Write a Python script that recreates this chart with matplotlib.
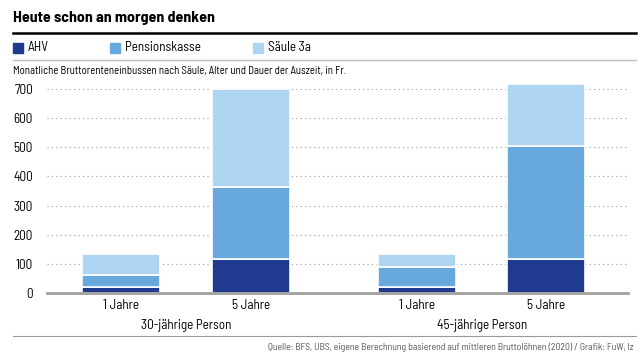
import matplotlib
matplotlib.use("Agg")
import matplotlib.pyplot as plt
from matplotlib.lines import Line2D
from matplotlib.patches import Rectangle

# data (Fr. per month)
durations = ["1 Jahre", "5 Jahre", "1 Jahre", "5 Jahre"]
groups = ["30-jährige Person", "45-jährige Person"]
ahv = [20, 117, 20, 117]
pensionskasse = [42, 247, 70, 386]
saeule3a = [73, 336, 45, 215]
series_names = ["AHV", "Pensionskasse", "Säule 3a"]
colors = ["#1f3a8f", "#67a9dc", "#aed5f1"]
yticks = [0, 100, 200, 300, 400, 500, 600, 700]

plt.rcParams["font.family"] = ["Barlow Semi Condensed", "DejaVu Sans"]
plt.rcParams["font.stretch"] = "condensed"

fig = plt.figure(figsize=(6.4, 3.58), dpi=100)
W, H = 640, 358

def fx(px):
    return px / W

def fy(py):
    return 1 - py / H

ax = fig.add_axes([fx(47), fy(293), fx(628) - fx(47), fy(89) - fy(293)])
ax.set_ylim(0, 700)

xpos = [0, 1, 2.28, 3.27]
width = 0.6
bottom = [0] * 4
for vals, col in zip([ahv, pensionskasse, saeule3a], colors):
    bars = ax.bar(xpos, vals, width, bottom=bottom, color=col, edgecolor="white",
                  linewidth=1.2, zorder=3)
    for b in bars:
        b.set_clip_on(False)
    bottom = [b + v for b, v in zip(bottom, vals)]

ax.set_xlim(-0.57, 3.9)
ax.set_yticks(yticks)
ax.set_yticklabels([str(t) for t in yticks], fontsize=9.5)
ax.set_xticks(xpos)
ax.set_xticklabels(durations, fontsize=9.5)
ax.tick_params(length=0, pad=4)
ax.tick_params(axis="y", pad=10)
ax.grid(axis="y", color="#9a9a9a", linestyle=(0, (1, 3)), linewidth=0.8, zorder=0)
ax.set_axisbelow(True)
for s in ["top", "right", "left"]:
    ax.spines[s].set_visible(False)
ax.spines["bottom"].set_color("#a0a0a0")
ax.spines["bottom"].set_linewidth(2)
ax.spines["bottom"].set_zorder(4)

# group labels
for g, (a, b) in zip(groups, [(0, 1), (2, 3)]):
    ax.text((xpos[a] + xpos[b]) / 2, -0.158, g, transform=ax.get_xaxis_transform(),
            ha="center", va="center", fontsize=9.5)

# header
fig.text(fx(13), fy(18), "Heute schon an morgen denken", fontsize=11.5,
         fontweight="bold", va="center", ha="left")
fig.add_artist(Line2D([fx(13), fx(636)], [fy(33), fy(33)], color="black", linewidth=1.8))

leg_x = [13, 110, 253]
for name, col, lx in zip(series_names, colors, leg_x):
    fig.add_artist(Rectangle((fx(lx), fy(53)), fx(10), 10 / H, color=col,
                             transform=fig.transFigure))
    fig.text(fx(lx + 15), fy(47.5), name, fontsize=9.5, va="center", ha="left")
fig.add_artist(Line2D([fx(13), fx(636)], [fy(60), fy(60)], color="#bdbdbd", linewidth=1))

fig.text(fx(13), fy(71), "Monatliche Bruttorenteneinbussen nach Säule, Alter und Dauer der Auszeit, in Fr.",
         fontsize=7.7, va="center", ha="left")

fig.add_artist(Line2D([fx(13), fx(636)], [fy(336), fy(336)], color="#9a9a9a", linewidth=0.8))
fig.text(fx(634), fy(347), "Quelle: BFS, UBS, eigene Berechnung basierend auf mittleren Bruttolöhnen (2020) / Grafik: FuW, lz",
         fontsize=7, color="#555555", va="center", ha="right")

fig.savefig("out.png", dpi=100, facecolor="white")
